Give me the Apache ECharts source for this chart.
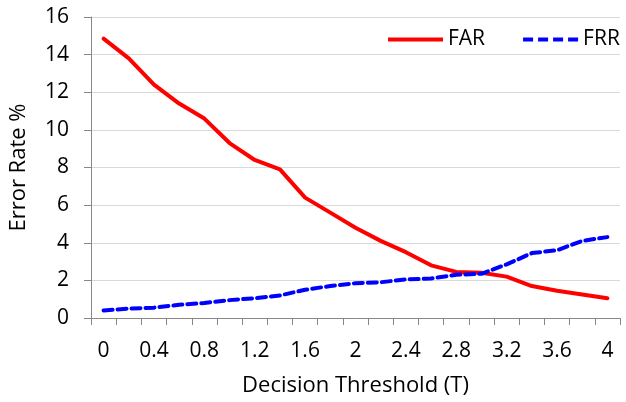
<!DOCTYPE html>
<html><head><meta charset="utf-8">
<script src="https://cdn.jsdelivr.net/npm/echarts@6/dist/echarts.min.js"></script>
<style>html,body{margin:0;padding:0;background:#fff}#c{width:626px;height:402px}</style>
</head><body><div id="c"></div>
<script>
const categories = ['0','0.2','0.4','0.6','0.8','1','1.2','1.4','1.6','1.8','2','2.2','2.4','2.6','2.8','3','3.2','3.4','3.6','3.8','4'];
const farValues = [14.85,13.8,12.4,11.4,10.6,9.3,8.4,7.9,6.4,5.6,4.8,4.1,3.5,2.8,2.45,2.4,2.2,1.7,1.45,1.25,1.05];
const frrValues = [0.4,0.5,0.55,0.7,0.8,0.95,1.05,1.2,1.5,1.7,1.85,1.9,2.05,2.1,2.3,2.35,2.85,3.45,3.6,4.1,4.3];
const yTicks = {min:0, max:16, interval:2};
const FONT = 'Open Sans';
const FS = 21;
const chart = echarts.init(document.getElementById('c'));
chart.setOption({
  animation:false,
  textStyle:{fontFamily:FONT},
  grid:{left:91,right:6,top:17,bottom:84,containLabel:false,outerBoundsMode:'none'},
  legend:{
    orient:'horizontal',top:29,left:388,width:238,itemWidth:55,itemHeight:4,itemGap:38,padding:0,
    textStyle:{fontFamily:FONT,fontSize:FS,color:'#000'},
    data:[
      {name:'FAR',icon:'path://M0,0h55v4h-55z'},
      {name:'FRR',icon:'path://M0,0h10v4h-10zM15,0h10v4h-10zM30,0h10v4h-10zM45,0h10v4h-10z'}
    ]
  },
  xAxis:{
    type:'category',data:categories,boundaryGap:true,
    name:'Decision Threshold (T)',nameLocation:'middle',nameGap:57,
    nameTextStyle:{fontFamily:FONT,fontSize:22,color:'#000'},
    axisLine:{lineStyle:{color:'#888',width:1}},
    axisTick:{show:true,interval:0,length:7,lineStyle:{color:'#888'}},
    axisLabel:{interval:1,margin:23,fontFamily:FONT,fontSize:FS,color:'#000'},
    splitLine:{show:false}
  },
  yAxis:{
    type:'value',min:yTicks.min,max:yTicks.max,interval:yTicks.interval,
    name:'Error Rate %',nameLocation:'middle',nameGap:61,nameRotate:90,
    nameTextStyle:{fontFamily:FONT,fontSize:22,color:'#000'},
    axisLine:{show:true,lineStyle:{color:'#888',width:1}},
    axisTick:{show:true,length:7,lineStyle:{color:'#888'}},
    axisLabel:{margin:22,fontFamily:FONT,fontSize:FS,color:'#000'},
    splitLine:{show:true,lineStyle:{color:'#d9d9d9',width:1}}
  },
  series:[
    {name:'FAR',type:'line',data:farValues,symbol:'none',color:'#ff0000',
     lineStyle:{color:'#ff0000',width:4,cap:'round',join:'round'},itemStyle:{color:'#ff0000'}},
    {name:'FRR',type:'line',data:frrValues,symbol:'none',color:'#0000ff',
     lineStyle:{color:'#0000ff',width:4,type:[9,5],cap:'round',join:'round'},itemStyle:{color:'#0000ff'}}
  ]
});
</script></body></html>
